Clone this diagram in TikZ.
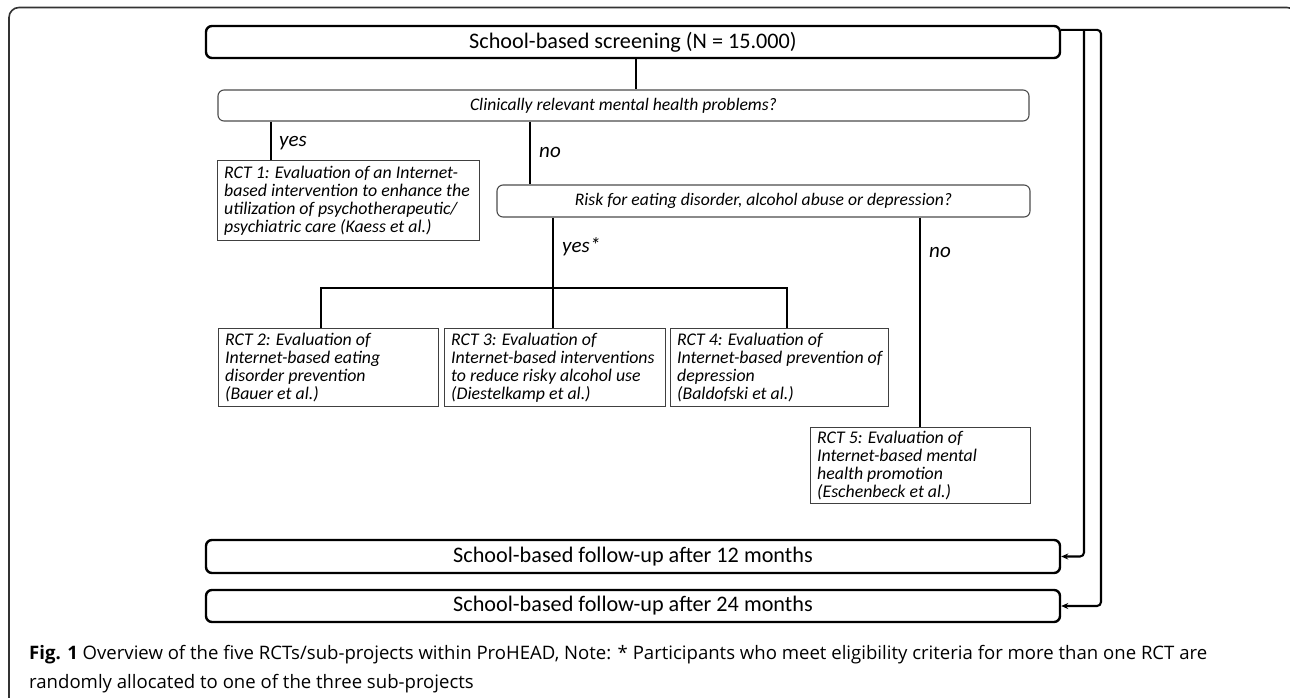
\documentclass[tikz,border=0pt]{standalone}
\usepackage{fontspec}
\usepackage{graphicx}
\usetikzlibrary{arrows.meta,calc}
\newfontfamily\diagfont{Carlito}
\newfontfamily\capfont{Open Sans}
\begin{document}
\begin{tikzpicture}[x=1pt,y=-1pt,
 bigbox/.style={draw=black, line width=2.4pt, rounded corners=6pt, minimum height=32pt, minimum width=854pt, inner sep=0pt, font=\diagfont\fontsize{22.2}{26}\selectfont},
 qbox/.style={draw=black!70, line width=1.1pt, rounded corners=6pt, minimum height=31pt, inner sep=0pt, font=\diagfont\itshape\fontsize{17.6}{20}\selectfont},
 rctbox/.style={draw=black!75, line width=1.1pt, inner sep=0pt, anchor=north west},
 rcttext/.style={anchor=west, inner sep=0pt, align=left, font=\diagfont\itshape\fontsize{17.8}{17.9}\selectfont},
 lbl/.style={anchor=west, inner sep=0pt, font=\diagfont\itshape\fontsize{21}{24}\selectfont},
 conn/.style={line width=2.3pt, draw=black},
 arr/.style={line width=2.1pt, draw=black, rounded corners=4pt, -{Stealth[length=7pt,width=6pt]}},
]
\useasboundingbox (0,0) rectangle (1290,697);
\clip (0,0) rectangle (1290,697);
% outer frame
\draw[line width=1.6pt, draw=black!80, rounded corners=10pt] (9,720) -- (9,7.5) -- (1297,7.5) -- (1297,720);

% boxes
\node[bigbox] (top) at (633,42) {School-based screening (N = 15.000)};
\node[qbox, minimum width=811pt] (q1) at (623.5,105.5) {Clinically relevant mental health problems?};
\node[rctbox, minimum width=262pt, minimum height=80pt] (rct1) at (217,160) {};
\node[rcttext] (rct1t) at ([xshift=7pt]rct1.west) {RCT 1: Evaluation of an Internet-\\based intervention to enhance the\\utilization of psychotherapeutic/\\psychiatric care (Kaess et al.)};
\node[qbox, minimum width=533pt, minimum height=32pt] (q2) at (763.5,201) {Risk for eating disorder, alcohol abuse or depression?};
\node[rctbox, minimum width=220pt, minimum height=78pt] (rct2) at (218,328) {};
\node[rcttext] (rct2t) at ([xshift=7pt]rct2.west) {RCT 2: Evaluation of\\Internet-based eating\\disorder prevention\\(Bauer et al.)};
\node[rctbox, minimum width=221pt, minimum height=78pt] (rct3) at (444,328) {};
\node[rcttext] (rct3t) at ([xshift=7pt]rct3.west) {RCT 3: Evaluation of\\Internet-based interventions\\to reduce risky alcohol use\\(Diestelkamp et al.)};
\node[rctbox, minimum width=218pt, minimum height=78pt] (rct4) at (670,328) {};
\node[rcttext] (rct4t) at ([xshift=7pt]rct4.west) {RCT 4: Evaluation of\\Internet-based prevention of\\depression\\(Baldofski et al.)};
\node[rctbox, minimum width=220pt, minimum height=76pt] (rct5) at (810,427) {};
\node[rcttext] (rct5t) at ([xshift=7pt]rct5.west) {RCT 5: Evaluation of\\Internet-based mental\\health promotion\\(Eschenbeck et al.)};
\node[bigbox, minimum height=33pt] (b12) at (633,556.5) {School-based follow-up after 12 months};
\node[bigbox] (b24) at (633,606) {School-based follow-up after 24 months};

% labels
\node[lbl] (yes1) at (279,143) {yes};
\node[lbl] (no1) at (539,152) {no};
\node[lbl] (yes2) at (562,247) {yes*};
\node[lbl] (no2) at (929,252) {no};

% connectors
\coordinate (cx) at (636,0);
\coordinate (yx) at (271,0);
\coordinate (nx) at (530,0);
\coordinate (sx) at (553,0);
\coordinate (nx2) at (920,0);
\coordinate (bl) at (321,288);
\coordinate (br) at (787,288);
\coordinate (xi) at (1084,0);
\coordinate (xo) at (1101,0);
\coordinate (tr) at ([yshift=-5pt]top.north east);

\draw[conn] (cx |- top.south) -- (cx |- q1.north);
\draw[conn] (yx |- q1.south) -- (yx |- rct1.north);
\draw[conn] (nx |- q1.south) -- (nx |- q2.north);
\draw[conn] (sx |- q2.south) -- (sx |- rct3.north);
\draw[conn] (bl |- rct2.north) -- (bl) -- (br) -- (br |- rct4.north);
\draw[conn] (nx2 |- q2.south) -- (nx2 |- rct5.north);
\draw[arr] (tr) -- (tr -| xo) -- (xo |- b24.east) -- (b24.east);
\draw[arr] (tr -| xi) -- (xi |- b12.east) -- (b12.east);

% caption
\node[anchor=base west, inner sep=0pt] (cap) at (29,659) {\resizebox{1178pt}{!}{\capfont\fontsize{16}{25}\selectfont\begin{tabular}[t]{@{}l@{}}\textbf{Fig. 1} Overview of the five RCTs/sub-projects within ProHEAD, Note: * Participants who meet eligibility criteria for more than one RCT are\\randomly allocated to one of the three sub-projects\end{tabular}}};
\end{tikzpicture}
\end{document}
